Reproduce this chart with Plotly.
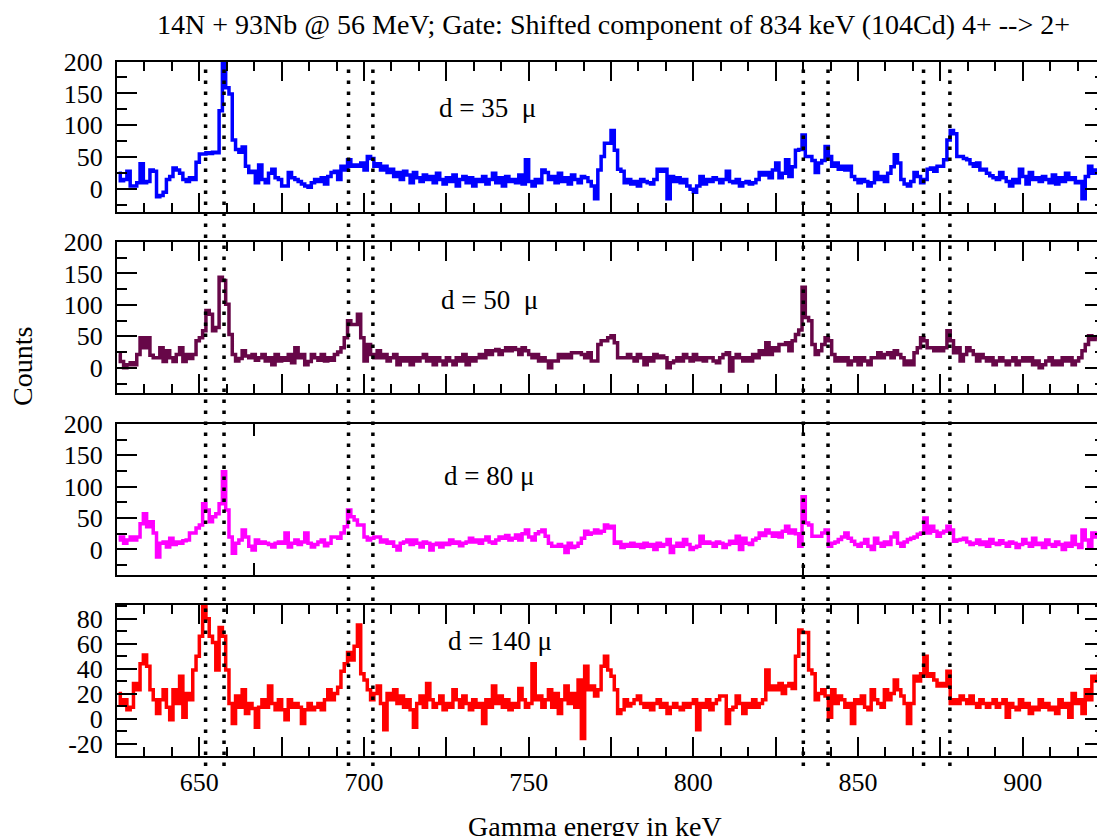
import plotly.graph_objects as go

# ---------------- data (1 keV bins starting at 625 keV) ----------------
bin_start = 625.0
bin_width = 1.0

counts_35 = [
    25, 13, 15, 28, 5, 5, 10, 40, 10, 12,
    30, 28, -12, -10, -5, 15, 20, 33, 30, 25,
    15, 12, 18, 15, 42, 55, 55, 57, 56, 58,
    57, 123, 215, 159, 149, 77, 62, 58, 66, 36,
    26, 28, 10, 38, 15, 10, 25, 31, 18, 15,
    5, 5, 26, 18, 15, 12, 8, 5, 3, 10,
    15, 12, 18, 8, 20, 26, 28, 15, 36, 30,
    46, 36, 38, 36, 41, 30, 51, 48, 36, 40,
    30, 36, 26, 31, 20, 26, 15, 28, 22, 10,
    26, 18, 12, 22, 15, 20, 10, 25, 15, 8,
    18, 12, 22, 5, 15, 20, 10, 18, 5, 15,
    12, 20, 8, 15, 25, 10, 18, 5, 20, 12,
    15, 10, 22, 8, 46, 12, 5, 15, 10, 30,
    26, 15, 20, 10, 25, 12, 18, 8, 22, 15,
    10, 20, 18, 12, 5, -15, 30, 51, 72, 72,
    92, 61, 31, 28, 10, 15, 8, 12, 5, 15,
    12, 10, 8, 15, 31, 28, 31, -15, 20, 12,
    18, 10, 15, 5, 0, -5, 5, 20, 8, 15,
    12, 18, 15, 10, 15, 28, 12, 10, 15, 5,
    10, 12, 8, 10, 15, 26, 22, 26, 18, 30,
    41, 18, 25, 46, 20, 35, 61, 62, 85, 51,
    51, 45, 26, 41, 45, 67, 51, 36, 41, 31,
    36, 30, 36, 20, 15, 10, 15, 12, 5, 10,
    26, 15, 20, 12, 25, 35, 54, 41, 15, 8,
    5, 12, 26, 20, 10, 15, 31, 33, 28, 36,
    36, 46, 77, 92, 87, 51, 51, 48, 46, 40,
    36, 41, 30, 31, 25, 21, 18, 15, 26, 18,
    12, 5, 15, 10, 31, 20, 8, 26, 15, 18,
    12, 20, 15, 10, 22, 8, 18, 12, 25, 15,
    18, 10, 12, -15, 20, 36, 25, 30, 28, 32,
]

counts_50 = [
    21, 10, 0, 5, 8, 5, 21, 48, 32, 48,
    20, 16, 16, 32, 10, 27, 16, 10, 21, 32,
    10, 21, 15, 21, 43, 48, 59, 91, 85, 59,
    64, 144, 139, 101, 53, 21, 11, 15, 27, 19,
    16, 21, 12, 16, 21, 11, 16, 5, 21, 11,
    16, 12, 21, 8, 32, 16, 21, 5, 10, 21,
    16, 12, 21, 11, 16, 12, 21, 25, 32, 48,
    75, 69, 69, 85, 48, 11, 37, 21, 16, 27,
    16, 21, 11, 16, 21, 5, 16, 11, 16, 5,
    16, 11, 16, 21, 11, 16, 5, 16, 11, 5,
    16, 11, 5, 16, 11, 21, 5, 16, 11, 16,
    21, 16, 27, 21, 27, 29, 21, 27, 32, 27,
    32, 29, 21, 32, 27, 21, 16, 21, 11, 16,
    11, 0, 11, 11, 21, 16, 21, 16, 24, 24,
    24, 21, 16, 24, 11, 11, 37, 43, 43, 48,
    51, 40, 16, 16, 16, 21, 16, 11, 21, 16,
    5, 16, 11, 21, 16, 19, 16, 0, 8, 11,
    16, 11, 21, 16, 11, 21, 13, 16, 11, 16,
    16, 11, 8, 16, 21, 24, -5, 16, 21, 16,
    11, 16, 11, 21, 16, 27, 21, 40, 21, 32,
    27, 37, 37, 40, 27, 43, 53, 60, 128, 80,
    75, 37, 21, 27, 37, 48, 43, 21, 11, 16,
    11, 16, 5, 11, 16, 5, 16, 11, 5, 16,
    16, 24, 16, 21, 24, 16, 27, 21, 16, 5,
    11, 5, 24, 32, 48, 43, 32, 32, 27, 32,
    27, 32, 59, 43, 24, 32, 11, 21, 32, 27,
    21, 11, 21, 16, 11, 16, 5, 11, 16, 11,
    5, 11, 16, 5, 11, 16, 11, 16, 5, 11,
    0, 5, 11, 16, 5, 11, 5, 16, 11, 16,
    5, 11, 16, 27, 37, 51, 45, 48, 50, 50,
]

counts_80 = [
    15, 20, 10, 15, 20, 15, 20, 41, 57, 36,
    44, 26, -12, 10, 12, 4, 18, 8, 12, 10,
    14, 15, 26, 26, 34, 39, 73, 63, 44, 52,
    57, 73, 124, 63, 20, -6, 10, 15, 31, 20,
    5, -1, 15, 10, 12, 10, 8, 4, 10, 12,
    10, 26, 4, 10, 15, 8, 12, 26, 10, 4,
    8, 12, 15, 6, 10, 20, 20, 18, 26, 36,
    63, 52, 47, 39, 39, 20, 15, 18, 20, 20,
    12, 15, 10, 12, 5, -1, 10, 12, 15, 8,
    15, 10, 4, 12, 10, -1, 8, 10, 4, 10,
    8, 15, 10, 12, 6, 10, 12, 18, 12, 15,
    10, 15, 20, 12, 10, 15, 20, 18, 22, 15,
    18, 23, 15, 25, 31, 20, 15, 25, 28, 31,
    21, 10, 5, 5, 8, 5, -5, 10, 3, 5,
    10, 18, 29, 24, 26, 31, 26, 29, 39, 34,
    37, 10, 12, 3, 8, 5, 10, 5, 8, 3,
    10, 5, 8, 0, 10, 5, 8, 16, -5, 5,
    10, 5, 16, 8, 0, 3, 5, 21, 10, 12,
    10, 5, 12, 10, 3, 8, 13, 10, 21, 0,
    18, 10, 8, 15, 18, 26, 22, 31, 26, 21,
    26, 20, 29, 37, 26, 31, 25, 5, 84, 42,
    39, 21, 21, 21, 26, 31, 5, 10, 12, 16,
    20, 26, 18, 13, 8, 5, 10, 16, 5, 0,
    18, 10, 5, 12, 8, 20, 26, 10, 5, 12,
    16, 18, 20, 24, 26, 50, 26, 37, 29, 21,
    26, 29, 37, 31, 13, 15, 16, 18, 12, 8,
    10, 15, 8, 12, 5, 16, 10, 8, 14, 10,
    5, 12, 10, 3, 8, 16, 10, 5, 18, 8,
    10, 3, 15, 8, 5, 12, 8, 0, 10, 5,
    21, 8, 3, 31, 15, 5, 26, 20, 25, 25,
]

counts_140 = [
    20, 12, 15, 7, 9, 28, 23, 44, 51, 42,
    23, 15, 4, 15, 23, 9, -1, 23, 12, 34,
    1, 20, 15, 39, 50, 66, 92, 80, 66, 61,
    39, 73, 66, 39, 12, -4, 18, 9, 23, 4,
    12, 8, -7, 9, 15, 9, 26, 12, 7, 15,
    7, -1, 15, 9, 12, 9, -4, 7, 12, 7,
    9, 12, 7, 15, 23, 15, 20, 25, 38, 44,
    53, 47, 58, 75, 36, 31, 23, 15, 20, 26,
    12, -9, 20, 15, 23, 12, 18, 9, 15, 7,
    -7, 12, 18, 9, 28, 15, 9, 12, 18, 7,
    12, 9, 23, 15, 9, 18, 12, 7, 15, 9,
    12, -4, 15, 9, 26, 12, 18, 9, 15, 7,
    12, 9, 24, 15, 9, 12, 44, 15, 18, 9,
    15, 23, 9, 20, 4, 15, 26, 12, 20, 9,
    31, -16, 42, 23, 26, 18, 23, 42, 50, 39,
    34, 23, 4, 7, 15, 10, 12, 15, 18, 12,
    9, 12, 7, 12, 15, 9, 12, 4, 9, 12,
    9, 7, 12, 9, 12, 15, -9, 12, 9, 15,
    7, 12, 15, 18, 18, -4, 7, 9, 18, 12,
    4, 12, 9, 15, 9, 12, 15, 39, 23, 26,
    23, 28, 20, 26, 28, 24, 50, 71, 69, 69,
    39, 36, 15, 20, 23, 18, 1, 23, 12, 18,
    15, 9, 12, -4, 15, 12, 18, 9, 7, 23,
    15, 12, 9, 23, 15, 20, 31, 23, 18, 12,
    -4, 12, 34, 30, 36, 50, 34, 36, 31, 26,
    28, 26, 38, 12, 15, 12, 18, 15, 12, 18,
    12, 9, 15, 12, 9, 12, 15, 9, 12, 15,
    1, 12, 9, 7, 15, 9, 12, 4, 9, 7,
    15, 9, 12, 7, 9, 4, 15, 9, 12, 1,
    20, 12, 15, 4, 23, 15, 34, 30, 36, 40,
]

panel_labels = ["d = 35  \u03bc", "d = 50  \u03bc", "d = 80 \u03bc", "d = 140 \u03bc"]
gate_lines_kev = [651.9, 657.5, 695.3, 702.7, 833.4, 840.9, 869.9, 877.9]

x_range = [625, 925]
x_major_ticks = [625, 650, 675, 700, 725, 750, 775, 800, 825, 850, 875, 900, 925]
x_tick_text = ["", "650", "", "700", "", "750", "", "800", "", "850", "", "900", ""]
x_ticks_panel3 = [666.67, 833.33]

y_ranges = [[-35, 200], [-40, 200], [-40, 200], [-30, 91]]
y_ticks_upper = [0, 50, 100, 150, 200]
y_ticks_upper_text = ["0", "50", "100", "150", "200"]
y_ticks_lower = [-20, 0, 20, 40, 60, 80]
y_ticks_lower_text = ["-20", "0", "20", "40", "60", "80"]

title_text = "14N + 93Nb @ 56 MeV; Gate: Shifted component of 834 keV (104Cd) 4+ --> 2+"
x_title = "Gamma energy in keV"
y_title = "Counts"

# ---------------- styling / layout ----------------
colors = ["#0000ff", "#670748", "#ff00ff", "#ff0000"]
series = [counts_35, counts_50, counts_80, counts_140]

W, H = 1106, 836
L, R = 117, 1105
panel_px = [(61.5, 211.5), (242, 393), (424, 574.5), (605, 756)]
FONT = "Liberation Serif, Times New Roman, serif"


def px_x(px):
    return (px - L) / (R - L)


def px_y(py):
    return 1 - py / H


centers = [bin_start + bin_width * (i + 0.5) for i in range(len(counts_35))]

fig = go.Figure()
for i, ys in enumerate(series):
    suffix = "" if i == 0 else str(i + 1)
    fig.add_trace(go.Scatter(
        x=centers, y=ys, mode="lines",
        line=dict(color=colors[i], width=3.5, shape="hvh"),
        xaxis="x" + suffix, yaxis="y" + suffix,
        showlegend=False, hoverinfo="skip",
    ))

layout = dict(
    width=W, height=H, autosize=False,
    margin=dict(l=L, r=W - R, t=0, b=0, pad=0, autoexpand=False),
    paper_bgcolor="white", plot_bgcolor="white",
    font=dict(family=FONT, color="black"),
    showlegend=False,
)

for i in range(4):
    suffix = "" if i == 0 else str(i + 1)
    top, bot = panel_px[i]
    xa = dict(
        domain=[0, 1], anchor="y" + suffix, range=x_range, automargin=False,
        showline=True, linecolor="black", linewidth=2, mirror="allticks",
        ticks="inside", tickwidth=2, tickcolor="black",
        showgrid=False, zeroline=False,
        tickfont=dict(family=FONT, size=26, color="black"),
    )
    if i == 2:
        xa.update(tickmode="array", tickvals=x_ticks_panel3, ticklen=12,
                  showticklabels=False)
    else:
        xa.update(tickmode="array", tickvals=x_major_ticks, ticktext=x_tick_text,
                  ticklen=19, showticklabels=(i == 3), ticklabelstandoff=2,
                  minor=dict(ticks="inside", ticklen=9, tickwidth=2, tickcolor="black",
                             tick0=625, dtick=25 / 3, showgrid=False))
    layout["xaxis" + suffix] = xa

    yt = y_ticks_lower if i == 3 else y_ticks_upper
    ytt = y_ticks_lower_text if i == 3 else y_ticks_upper_text
    ya = dict(
        domain=[px_y(bot), px_y(top)], anchor="x" + suffix, range=y_ranges[i],
        automargin=False,
        showline=True, linecolor="black", linewidth=2, mirror="allticks",
        ticks="inside", ticklen=20, tickwidth=2, tickcolor="black",
        tickmode="array", tickvals=yt, ticktext=ytt, ticklabelstandoff=7,
        showgrid=False, zeroline=False,
        tickfont=dict(family=FONT, size=26, color="black"),
        minor=dict(ticks="inside", ticklen=10, tickwidth=2, tickcolor="black",
                   tick0=0, dtick=(10 if i == 3 else 25), showgrid=False),
    )
    layout["yaxis" + suffix] = ya

fig.update_layout(**layout)

for v in gate_lines_kev:
    fig.add_shape(type="line", xref="x4", yref="paper", x0=v, x1=v,
                  y0=px_y(766), y1=px_y(61.5),
                  line=dict(color="black", width=3.5, dash="3.5px,7.5px"), layer="above")

label_pos = [(437, 108), (439, 300), (442, 476), (446, 641)]
for (lx, ly), txt in zip(label_pos, panel_labels):
    fig.add_annotation(text=txt, x=px_x(lx), y=px_y(ly), xref="paper", yref="paper",
                       xanchor="left", yanchor="middle", showarrow=False,
                       font=dict(family=FONT, size=27, color="black"))

fig.add_annotation(text=title_text, x=px_x(613), y=px_y(24), xref="paper", yref="paper",
                   xanchor="center", yanchor="middle", showarrow=False,
                   font=dict(family=FONT, size=28, color="black"))
fig.add_annotation(text=y_title, x=px_x(22), y=px_y(367), xref="paper", yref="paper",
                   xanchor="center", yanchor="middle", showarrow=False, textangle=-90,
                   font=dict(family=FONT, size=28, color="black"))
fig.add_annotation(text=x_title, x=px_x(595), y=px_y(826), xref="paper", yref="paper",
                   xanchor="center", yanchor="middle", showarrow=False,
                   font=dict(family=FONT, size=28, color="black"))

fig.write_html("out.html", config={"displayModeBar": False},
               post_script="document.body.style.margin='0';document.body.style.overflow='hidden';")
